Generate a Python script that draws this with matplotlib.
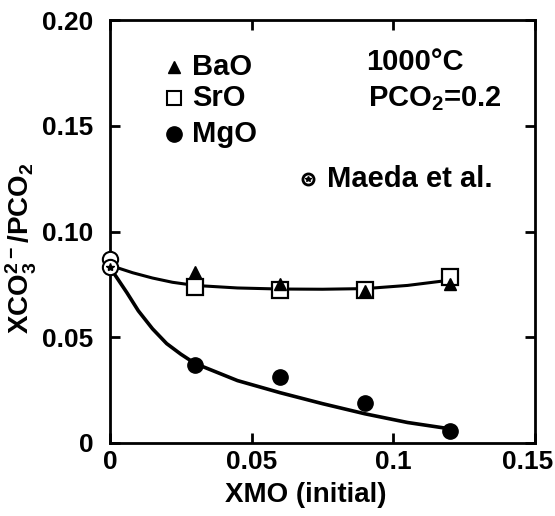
import numpy as np
import matplotlib
matplotlib.use("Agg")
import matplotlib.pyplot as plt
from matplotlib.transforms import ScaledTranslation

plt.rcParams['font.family'] = ['Liberation Sans', 'DejaVu Sans']
plt.rcParams['font.weight'] = 'bold'
plt.rcParams['axes.labelweight'] = 'bold'
plt.rcParams['mathtext.fontset'] = 'custom'
plt.rcParams['mathtext.rm'] = 'Liberation Sans:bold'
plt.rcParams['mathtext.default'] = 'rm'

#%% data
x_pts = [0.03, 0.06, 0.09, 0.12]
bao = [0.081, 0.075, 0.072, 0.075]
sro = [0.0738, 0.0725, 0.0725, 0.0785]
mgo = [0.037, 0.031, 0.019, 0.0057]
maeda_x = [0.0, 0.0]
maeda_y = [0.087, 0.083]

# smooth fit curves as drawn in the figure
upper_x = [0.0, 0.008, 0.015, 0.022, 0.03, 0.045, 0.06, 0.075, 0.09, 0.105, 0.12]
upper_y = [0.084, 0.0805, 0.078, 0.076, 0.0745, 0.0733, 0.0728, 0.0727, 0.073, 0.0745, 0.077]
lower_x = [0.0, 0.003, 0.006, 0.01, 0.015, 0.02, 0.025, 0.03, 0.045, 0.06, 0.075, 0.09, 0.105, 0.12]
lower_y = [0.083, 0.077, 0.071, 0.0625, 0.054, 0.047, 0.042, 0.0376, 0.0295, 0.0238, 0.0186, 0.0138, 0.0097, 0.0067]

xticks = [0, 0.05, 0.1, 0.15]
xtick_labels = ['0', '0.05', '0.1', '0.15']
yticks = [0, 0.05, 0.10, 0.15, 0.20]
ytick_labels = ['0', '0.05', '0.10', '0.15', '0.20']

#%% figure setting
fig = plt.figure(figsize=(5.55, 5.16), dpi=100)
ax = fig.add_axes([110 / 555, 1 - 443 / 516, 425 / 555, 423 / 516])

ax.plot(upper_x, upper_y, color='black', lw=2.2, zorder=2)
ax.plot(lower_x, lower_y, color='black', lw=2.6, zorder=2)

ax.plot(x_pts, sro, 's', ms=11, mfc='white', mec='black', mew=1.6, zorder=3, clip_on=False)
ax.plot(x_pts, bao, '^', ms=9, color='black', zorder=4, clip_on=False)
ax.plot(x_pts, mgo, 'o', ms=11, color='black', zorder=3, clip_on=False)
ax.plot(maeda_x, maeda_y, 'o', ms=11, mfc='white', mec='black', mew=1.5, zorder=5, clip_on=False)
ax.plot(maeda_x[1:], maeda_y[1:], '*', ms=6, color='black', zorder=6, clip_on=False)

# in-plot key
fs = 21
ax.plot([0.0227], [0.178], '^', ms=9, color='black')
ax.text(0.029, 0.178, 'BaO', fontsize=fs, va='center')
ax.plot([0.0225], [0.163], 's', ms=10, mfc='white', mec='black', mew=1.5)
ax.text(0.029, 0.163, 'SrO', fontsize=fs, va='center')
ax.plot([0.0225], [0.146], 'o', ms=11, color='black')
ax.text(0.029, 0.146, 'MgO', fontsize=fs, va='center')
ax.plot([0.07], [0.1248], 'o', ms=8, mfc='white', mec='black', mew=2)
ax.plot([0.07], [0.1248], '*', ms=4, color='black')
ax.text(0.0765, 0.1248, 'Maeda et al.', fontsize=fs, va='center')
ax.text(0.0904, 0.180, '1000°C', fontsize=fs, va='center')
ax.text(0.091, 0.163, 'PCO$_2$=0.2', fontsize=fs, va='center')

ax.set_xlim(0, 0.15)
ax.set_ylim(0, 0.20)
ax.set_xticks(xticks)
ax.set_xticklabels(xtick_labels)
ax.set_yticks(yticks)
ax.set_yticklabels(ytick_labels)
ax.tick_params(direction='in', length=7, width=2, top=True, right=True, labelsize=19)
ax.tick_params(axis='x', pad=5)
ax.tick_params(axis='y', pad=12)
for s in ax.spines.values():
    s.set_linewidth(2)

# last x label sits at the right edge of the page, nudge it in
last = ax.get_xticklabels()[-1]
last.set_transform(last.get_transform() + ScaledTranslation(-5 / 72, 0, fig.dpi_scale_trans))

ax.set_xlabel('XMO (initial)', fontsize=20)
ax.xaxis.set_label_coords(0.461, -0.093)
ax.set_ylabel('XCO$_3^{2-}$/PCO$_2$', fontsize=20)
ax.yaxis.set_label_coords(-0.168, 0.461)

fig.savefig('out.png', dpi=100)
